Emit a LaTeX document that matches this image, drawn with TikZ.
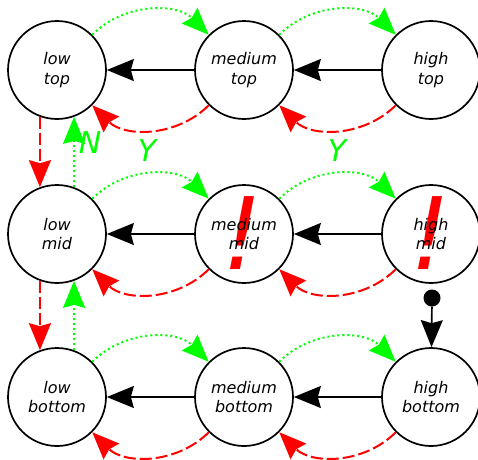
\documentclass[tikz,border=0pt]{standalone}
\usepackage{fontspec}
\setmainfont{DejaVu Sans}
\usetikzlibrary{arrows.meta}
\tikzset{
  state/.style={circle,draw,line width=1.7pt,minimum size=98pt,inner sep=0pt,
    font=\fontsize{16}{19.5}\selectfont\itshape,align=center},
  bigtip/.tip={Stealth[length=27pt,width=22pt,inset=3pt]},
  back/.style={-bigtip,black,line width=1.7pt},
  yes/.style={-bigtip,green,line width=2pt,dash pattern=on 2pt off 3pt},
  no/.style={-bigtip,red,line width=2pt,dash pattern=on 12pt off 4pt},
  lbl/.style={text=green,font=\fontsize{30}{30}\selectfont\itshape,inner sep=0pt},
  bang/.style={text=red,font=\fontsize{100}{100}\selectfont\itshape,inner sep=0pt},
  init/.style={circle,fill=black,minimum size=17pt,inner sep=0pt}
}
\begin{document}
\begin{tikzpicture}[x=1pt,y=-1pt]
\useasboundingbox (0,0) rectangle (478,459);
% warning marks (behind the text)
\node[bang] (b1) at (243,233) {!};
\node[bang] (b2) at (431,233) {!};
% states
\node[state] (lt) at (57,70) {low\\top};
\node[state] (mt) at (244,70) {medium\\top};
\node[state] (ht) at (431,70) {high\\top};
\node[state] (lm) at (57,234) {low\\mid};
\node[state] (mm) at (244,234) {medium\\mid};
\node[state] (hm) at (431,234) {high\\mid};
\node[state] (lb) at (57,397) {low\\bottom};
\node[state] (mb) at (244,397) {medium\\bottom};
\node[state] (hb) at (431,397) {high\\bottom};
% initial
\node[init] (start) at (432,298) {};
\draw[back] (start) -- (hb);
% horizontal transitions
\foreach \l/\m/\h in {lt/mt/ht, lm/mm/hm, lb/mb/hb}{
  \draw[back] (\m) -- (\l);
  \draw[back] (\h) -- (\m);
  \draw[yes] (\l) to[bend left=45] (\m);
  \draw[yes] (\m) to[bend left=45] (\h);
  \draw[no] (\m) to[bend left=45] (\l);
  \draw[no] (\h) to[bend left=45] (\m);
}
% vertical transitions
\draw[no] (lt.-110) -- (lm.110);
\draw[yes] (lm.70) -- (lt.-70);
\draw[no] (lm.-110) -- (lb.110);
\draw[yes] (lb.70) -- (lm.-70);
% labels
\node[lbl] (n1) at (90,143) {N};
\node[lbl] (y1) at (147,151) {Y};
\node[lbl] (y2) at (337,151) {Y};
\end{tikzpicture}
\end{document}
